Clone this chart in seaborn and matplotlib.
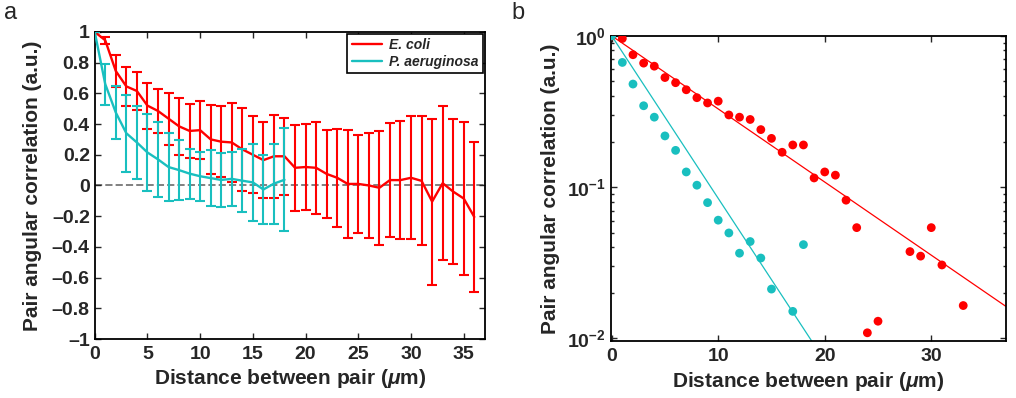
import numpy as np
import matplotlib
matplotlib.use('Agg')
import matplotlib.pyplot as plt
from matplotlib.ticker import FixedLocator, FixedFormatter, LogLocator, NullFormatter
import seaborn as sns

# ---------------------------------------------------------------
# Datos
# ---------------------------------------------------------------
# Panel a: correlación media +/- error por distancia (um)
dist_ecoli = list(range(37))
ecoli_mean = [1.0, 0.945, 0.745, 0.645, 0.615, 0.52, 0.485, 0.435, 0.385, 0.355,
              0.36, 0.30, 0.285, 0.28, 0.235, 0.20, 0.165, 0.19, 0.19, 0.115,
              0.12, 0.115, 0.075, 0.05, 0.01, 0.01, 0.0, -0.015, 0.035, 0.035,
              0.05, 0.03, -0.105, 0.015, -0.04, -0.085, -0.205]
ecoli_err = [0.0, 0.022, 0.107, 0.126, 0.126, 0.15, 0.141, 0.17, 0.184, 0.174,
             0.187, 0.225, 0.23, 0.26, 0.27, 0.25, 0.246, 0.27, 0.25, 0.28,
             0.277, 0.30, 0.287, 0.32, 0.35, 0.32, 0.344, 0.37, 0.37, 0.385,
             0.40, 0.42, 0.54, 0.50, 0.47, 0.50, 0.49]

dist_pa = list(range(19))
pa_mean = [1.0, 0.66, 0.475, 0.34, 0.28, 0.215, 0.17, 0.12, 0.10, 0.077,
           0.06, 0.048, 0.036, 0.043, 0.031, 0.02, -0.026, 0.012, 0.037]
pa_err = [0.0, 0.133, 0.171, 0.25, 0.24, 0.253, 0.243, 0.22, 0.193, 0.163,
          0.16, 0.182, 0.178, 0.177, 0.204, 0.25, 0.223, 0.26, 0.334]

# Panel b: valores positivos en escala log + ajuste exponencial
b_dist_ecoli = [0, 1, 2, 3, 4, 5, 6, 7, 8, 9, 10, 11, 12, 13, 14, 15, 16, 17, 18,
                19, 20, 21, 22, 23, 24, 25, 28, 29, 30, 31, 33]
b_ecoli = [1.0, 0.96, 0.75, 0.66, 0.63, 0.53, 0.49, 0.44, 0.39, 0.36, 0.37,
           0.30, 0.29, 0.28, 0.24, 0.21, 0.17, 0.19, 0.19, 0.115, 0.126, 0.12,
           0.082, 0.054, 0.0109, 0.013, 0.0375, 0.035, 0.054, 0.0306, 0.0165]
b_dist_pa = [0, 1, 2, 3, 4, 5, 6, 7, 8, 9, 10, 11, 12, 13, 14, 15, 17, 18]
b_pa = [1.0, 0.667, 0.48, 0.345, 0.29, 0.218, 0.175, 0.126, 0.103, 0.079,
        0.0605, 0.0498, 0.0366, 0.0437, 0.034, 0.0212, 0.0151, 0.0417]

fit_x_ecoli = [0, 37]
fit_y_ecoli = [1.0, 0.0163]
fit_x_pa = [0, 19]
fit_y_pa = [1.0, 0.0091]

ROJO = '#FF0000'
CIAN = '#19BFBF'

# ---------------------------------------------------------------
# Estilo
# ---------------------------------------------------------------
sns.set_style('ticks')
plt.rcParams['font.family'] = ['Liberation Sans', 'DejaVu Sans']
plt.rcParams['font.weight'] = 'bold'
plt.rcParams['mathtext.fontset'] = 'custom'
plt.rcParams['mathtext.rm'] = 'Liberation Sans:bold'
plt.rcParams['mathtext.it'] = 'Liberation Sans:bold:italic'
plt.rcParams['mathtext.bf'] = 'Liberation Sans:bold'
plt.rcParams['mathtext.default'] = 'it'
plt.rcParams['axes.linewidth'] = 1.3

fig = plt.figure(figsize=(10.16, 3.98), dpi=100)
ax_a = fig.add_axes([0.0932, 0.148, 0.384, 0.772])
ax_b = fig.add_axes([0.601, 0.142, 0.389, 0.768])

TAM_TICKS = 14
TAM_LABEL = 15

# ---------------------------------------------------------------
# Panel a
# ---------------------------------------------------------------
ax_a.axhline(0, color='#808080', linestyle='--', linewidth=1.4, zorder=0)

ax_a.errorbar(dist_ecoli, ecoli_mean, yerr=ecoli_err, fmt='none', ecolor=ROJO,
              elinewidth=1.5, capsize=3.6, capthick=1.5, zorder=2)
sns.lineplot(x=dist_ecoli, y=ecoli_mean, ax=ax_a, color=ROJO, linewidth=1.7,
             label='E. coli', zorder=3)
ax_a.errorbar(dist_pa, pa_mean, yerr=pa_err, fmt='none', ecolor=CIAN,
              elinewidth=1.5, capsize=3.6, capthick=1.5, zorder=4)
sns.lineplot(x=dist_pa, y=pa_mean, ax=ax_a, color=CIAN, linewidth=1.7,
             label='P. aeruginosa', zorder=5)

ax_a.set_xlim(0, 37)
ax_a.set_ylim(-1, 1)
ax_a.set_xticks([0, 5, 10, 15, 20, 25, 30, 35])
yt = [1, 0.8, 0.6, 0.4, 0.2, 0, -0.2, -0.4, -0.6, -0.8, -1]
ax_a.yaxis.set_major_locator(FixedLocator(yt))
ax_a.yaxis.set_major_formatter(FixedFormatter(['1', '0.8', '0.6', '0.4', '0.2', '0',
                                               '–0.2', '–0.4', '–0.6', '–0.8', '–1']))
ax_a.set_xlabel(r'Distance between pair ($\mu$m)', fontsize=TAM_LABEL, fontweight='bold', labelpad=3)
ax_a.set_ylabel('Pair angular correlation (a.u.)', fontsize=TAM_LABEL, fontweight='bold', labelpad=7)

leg = ax_a.legend(loc='upper right', fontsize=10, frameon=True, fancybox=False,
                  framealpha=1, edgecolor='black', handlelength=2.2, borderaxespad=0.15,
                  borderpad=0.3, labelspacing=0.2, handletextpad=0.5)
leg.get_frame().set_linewidth(1.2)
for t in leg.get_texts():
    t.set_fontstyle('italic')
    t.set_fontweight('bold')

# ---------------------------------------------------------------
# Panel b
# ---------------------------------------------------------------
sns.lineplot(x=fit_x_ecoli, y=fit_y_ecoli, ax=ax_b, color=ROJO, linewidth=0.9)
sns.lineplot(x=fit_x_pa, y=fit_y_pa, ax=ax_b, color=CIAN, linewidth=0.9)
sns.scatterplot(x=b_dist_ecoli, y=b_ecoli, ax=ax_b, color=ROJO, s=40,
                edgecolor='none', zorder=3)
sns.scatterplot(x=b_dist_pa, y=b_pa, ax=ax_b, color=CIAN, s=40,
                edgecolor='none', zorder=3)

ax_b.set_yscale('log')
ax_b.set_xlim(-0.1, 37)
ax_b.set_ylim(10 ** -2.02, 1.0)
ax_b.set_xticks([0, 10, 20, 30])
ax_b.yaxis.set_major_locator(FixedLocator([1.0, 0.1, 0.01]))
ax_b.yaxis.set_major_formatter(FixedFormatter([r'$\mathrm{10^{0}}$', r'$\mathrm{10^{–1}}$',
                                               r'$\mathrm{10^{–2}}$']))
ax_b.yaxis.set_minor_locator(LogLocator(base=10, subs=np.arange(2, 10)))
ax_b.yaxis.set_minor_formatter(NullFormatter())
ax_b.set_xlabel(r'Distance between pair ($\mu$m)', fontsize=TAM_LABEL, fontweight='bold', labelpad=3)
ax_b.set_ylabel('Pair angular correlation (a.u.)', fontsize=TAM_LABEL, fontweight='bold', labelpad=5)

for ax in (ax_a, ax_b):
    ax.tick_params(axis='both', which='both', direction='in', top=True, right=True,
                   labelsize=TAM_TICKS, width=1.0)
    ax.tick_params(which='major', length=4)
    ax.tick_params(which='minor', length=2.5)
    ax.tick_params(axis='x', pad=5)
    for lab in ax.get_xticklabels() + ax.get_yticklabels():
        lab.set_fontweight('bold')
        lab.set_fontsize(TAM_TICKS)
    for sp in ax.spines.values():
        sp.set_visible(True)
        sp.set_color('black')

fig.text(0.004, 0.995, 'a', fontsize=17, fontweight='normal', va='top', ha='left')
fig.text(0.503, 0.995, 'b', fontsize=17, fontweight='normal', va='top', ha='left')

fig.savefig('out.png', dpi=100)
